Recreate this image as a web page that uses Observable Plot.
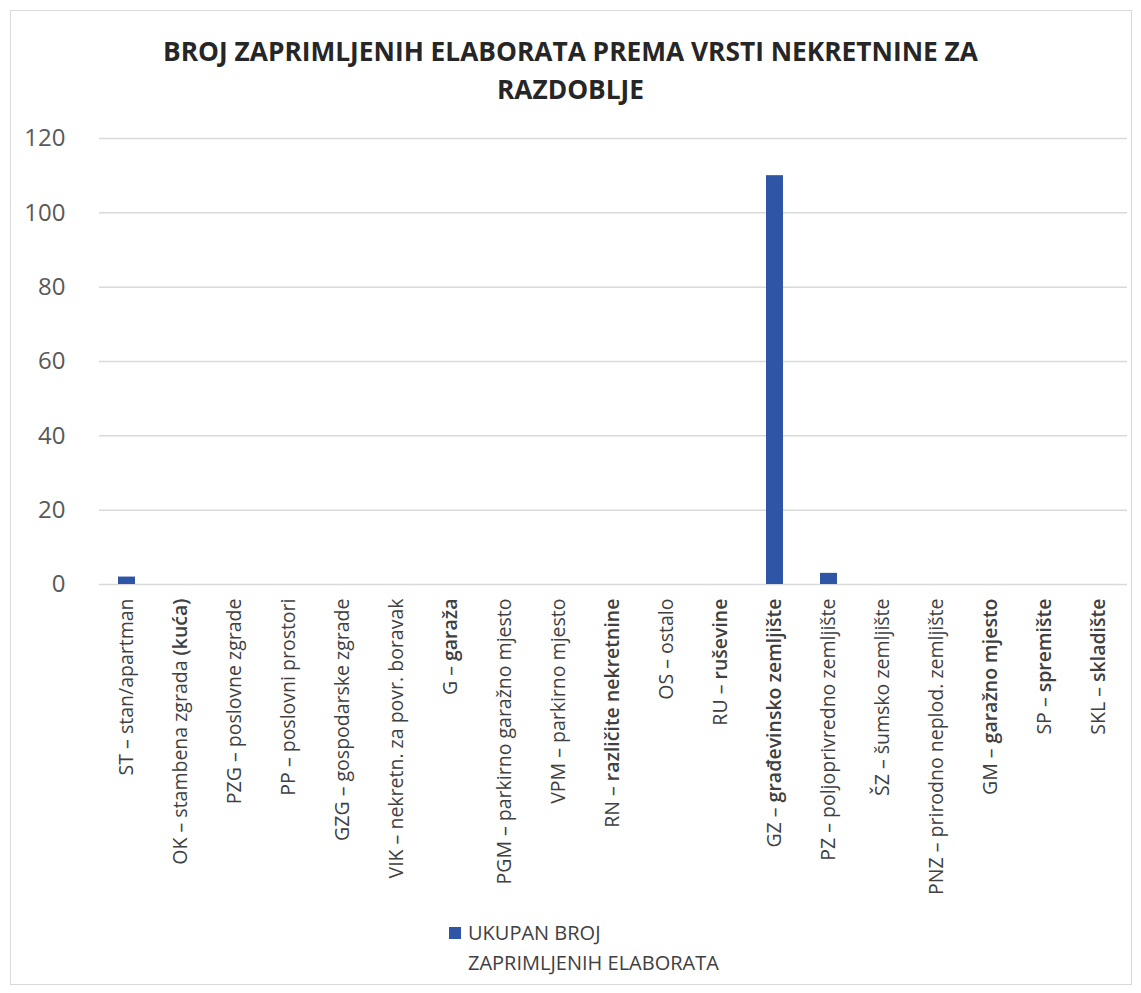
<!DOCTYPE html>
<html>
<head>
<meta charset="utf-8">
<script src="https://cdn.jsdelivr.net/npm/d3@7"></script>
<script src="https://cdn.jsdelivr.net/npm/@observablehq/plot@0.6"></script>
<style>
  html, body { margin: 0; padding: 0; background: #fff; }
  #wrap { position: relative; width: 1141px; height: 993px; overflow: hidden; font-family: "Open Sans", sans-serif; }
  #frame { position: absolute; left: 10px; top: 10px; width: 1122px; height: 975px; border: 1px solid #d9d9d9; box-sizing: border-box; }
  #title { position: absolute; left: 0; top: 32px; width: 1141px; text-align: center; font-weight: 700; font-size: 26.3px; line-height: 38px; color: #262626; }
  #chart { position: absolute; left: 0; top: 110px; }
  #legend { position: absolute; left: 449px; top: 918px; font-size: 20px; line-height: 30px; color: #404040; }
  #legend .sw { position: absolute; left: 0; top: 9px; width: 12px; height: 12px; }
  #legend .txt { position: absolute; left: 19px; top: 0; white-space: nowrap; }
</style>
</head>
<body>
<div id="wrap">
  <div id="frame"></div>
  <div id="title"></div>
  <div id="chart"></div>
  <div id="legend"></div>
</div>
<script>
const titleLines = ["BROJ ZAPRIMLJENIH ELABORATA PREMA VRSTI NEKRETNINE ZA", "RAZDOBLJE"];
const categories = [
  "ST – stan/apartman",
  "OK – stambena zgrada (kuća)",
  "PZG – poslovne zgrade",
  "PP – poslovni prostori",
  "GZG – gospodarske zgrade",
  "VIK – nekretn. za povr. boravak",
  "G – garaža",
  "PGM – parkirno garažno mjesto",
  "VPM – parkirno mjesto",
  "RN – različite nekretnine",
  "OS – ostalo",
  "RU – ruševine",
  "GZ – građevinsko zemljište",
  "PZ – poljoprivredno zemljište",
  "ŠZ – šumsko zemljište",
  "PNZ – prirodno neplod. zemljište",
  "GM – garažno mjesto",
  "SP – spremište",
  "SKL – skladište"
];
const values = [2, 0, 0, 0, 0, 0, 0, 0, 0, 0, 0, 0, 110, 3, 0, 0, 0, 0, 0];
// trailing part of each label that appears heavier in the reference
const heavyParts = ["", "(kuća)", "", "", "", "", "garaža", "", "", "različite nekretnine", "", "ruševine", "građevinsko zemljište", "", "šumsko", "", "garažno mjesto", "spremište", "skladište"];
const yTicks = [0, 20, 40, 60, 80, 100, 120];
const seriesName = ["UKUPAN BROJ", "ZAPRIMLJENIH ELABORATA"];
const barColor = "#2f56a6";

const data = categories.map((c, i) => ({category: c, value: values[i]}));

document.getElementById("title").innerHTML = titleLines.join("<br>");

const chart = Plot.plot({
  width: 1141,
  height: 790,
  marginLeft: 99,
  marginRight: 14,
  marginTop: 28,
  marginBottom: 316,
  style: {fontFamily: "Open Sans, sans-serif", background: "transparent"},
  x: {type: "band", domain: categories, paddingInner: 0.68, paddingOuter: 0.34, label: null},
  y: {domain: [0, 120], label: null},
  marks: [
    Plot.gridY(yTicks, {stroke: "#d9d9d9", strokeOpacity: 1, strokeWidth: 1.5}),
    Plot.barY(data, {x: "category", y: "value", fill: barColor}),
    Plot.axisY(yTicks, {tickSize: 0, tickPadding: 34, fontSize: 24, fill: "#595959", label: null}),
    Plot.axisX({tickRotate: -90, tickSize: 0, tickPadding: 14, fontSize: 19.5, fill: "#404040", label: null, lineWidth: 40})
  ]
});
document.getElementById("chart").appendChild(chart);

// make the heavier parts of some tick labels semi-bold
const xTexts = chart.querySelectorAll('g[aria-label="x-axis tick label"] text');
xTexts.forEach(t => {
  const full = t.textContent;
  const idx = categories.indexOf(full);
  const heavy = idx >= 0 ? heavyParts[idx] : "";
  if (heavy && full.endsWith(heavy)) {
    const pre = full.slice(0, full.length - heavy.length);
    t.textContent = "";
    const a = document.createElementNS("http://www.w3.org/2000/svg", "tspan");
    a.textContent = pre;
    const b = document.createElementNS("http://www.w3.org/2000/svg", "tspan");
    b.textContent = heavy;
    b.setAttribute("font-weight", "600");
    t.appendChild(a);
    t.appendChild(b);
  }
});

const lg = document.getElementById("legend");
lg.innerHTML = `<div class="sw" style="background:${barColor}"></div><div class="txt">${seriesName.join("<br>")}</div>`;
</script>
</body>
</html>
